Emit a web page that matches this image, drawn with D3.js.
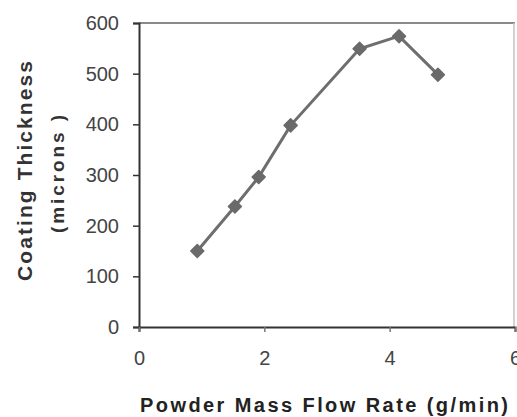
<!DOCTYPE html>
<html><head><meta charset="utf-8">
<script src="https://cdn.jsdelivr.net/npm/d3@7"></script>
<style>body{margin:0;background:#fff}</style>
</head><body>
<svg id="c" width="517" height="417"></svg>
<script>
const flowRate = [0.93, 1.53, 1.91, 2.42, 3.52, 4.15, 4.77];
const thickness = [150, 238, 296, 398, 549, 574, 498];
const xTicks = [0, 2, 4, 6];
const yTicks = [0, 100, 200, 300, 400, 500, 600];
const xTitle = "Powder Mass Flow Rate (g/min)";
const yTitle1 = "Coating Thickness";
const yTitle2 = "(microns )";

const svg = d3.select("#c");
const x = d3.scaleLinear().domain([0, 6]).range([139, 515]);
const y = d3.scaleLinear().domain([0, 600]).range([327, 23]);
const font = "'Liberation Sans', Arial, sans-serif";

// frame top & right
svg.append("line").attr("x1", x(0)).attr("x2", x(6)).attr("y1", y(600)).attr("y2", y(600))
  .attr("stroke", "#8a8a8a").attr("stroke-width", 2);
svg.append("line").attr("x1", x(6) - 1).attr("x2", x(6) - 1).attr("y1", y(600)).attr("y2", y(0))
  .attr("stroke", "#c4c4c4").attr("stroke-width", 1.5);

// y axis
const yAxis = svg.append("g").attr("transform", `translate(${x(0)},0)`)
  .call(d3.axisLeft(y).tickValues(yTicks).tickFormat(d3.format("d")).tickSize(6).tickPadding(14));
yAxis.select(".domain").attr("stroke", "#333").attr("stroke-width", 2);
yAxis.selectAll(".tick line").attr("stroke", "#333").attr("stroke-width", 1.5);
yAxis.selectAll(".tick text").attr("font-family", font).attr("font-size", 20).attr("fill", "#444");

// x axis
const xAxis = svg.append("g").attr("transform", `translate(0,${y(0)})`)
  .call(d3.axisBottom(x).tickValues(xTicks).tickFormat(d3.format("d")).tickSize(5).tickPadding(19));
xAxis.select(".domain").attr("stroke", "#333").attr("stroke-width", 2);
xAxis.selectAll(".tick line").attr("stroke", "#777").attr("stroke-width", 1.5);
xAxis.selectAll(".tick text").attr("font-family", font).attr("font-size", 20).attr("fill", "#444");

// line
const pts = flowRate.map((v, i) => [v, thickness[i]]);
svg.append("path").datum(pts)
  .attr("d", d3.line().x(d => x(d[0])).y(d => y(d[1])))
  .attr("fill", "none").attr("stroke", "#6e6e6e").attr("stroke-width", 3);

// markers
svg.selectAll(".m").data(pts).enter().append("path")
  .attr("transform", d => `translate(${x(d[0])},${y(d[1])})`)
  .attr("d", "M0,-6.5L6.5,0L0,6.5L-6.5,0Z")
  .attr("fill", "#6a6a6a").attr("stroke", "#6a6a6a").attr("stroke-width", 1.5).attr("stroke-linejoin", "round");

// titles
svg.append("text").attr("x", 324).attr("y", 412).attr("text-anchor", "middle")
  .attr("font-family", font).attr("font-size", 20).attr("font-weight", "bold").attr("fill", "#222")
  .attr("textLength", 368).attr("lengthAdjust", "spacing").text(xTitle);
svg.append("text").attr("transform", "translate(32,171) rotate(-90)").attr("text-anchor", "middle")
  .attr("font-family", font).attr("font-size", 21).attr("font-weight", "bold").attr("fill", "#333")
  .attr("textLength", 220).attr("lengthAdjust", "spacing").text(yTitle1);
svg.append("text").attr("transform", "translate(64,174) rotate(-90)").attr("text-anchor", "middle")
  .attr("font-family", font).attr("font-size", 19).attr("font-weight", "bold").attr("fill", "#333")
  .attr("textLength", 118).attr("lengthAdjust", "spacing").text(yTitle2);
</script>
</body></html>
